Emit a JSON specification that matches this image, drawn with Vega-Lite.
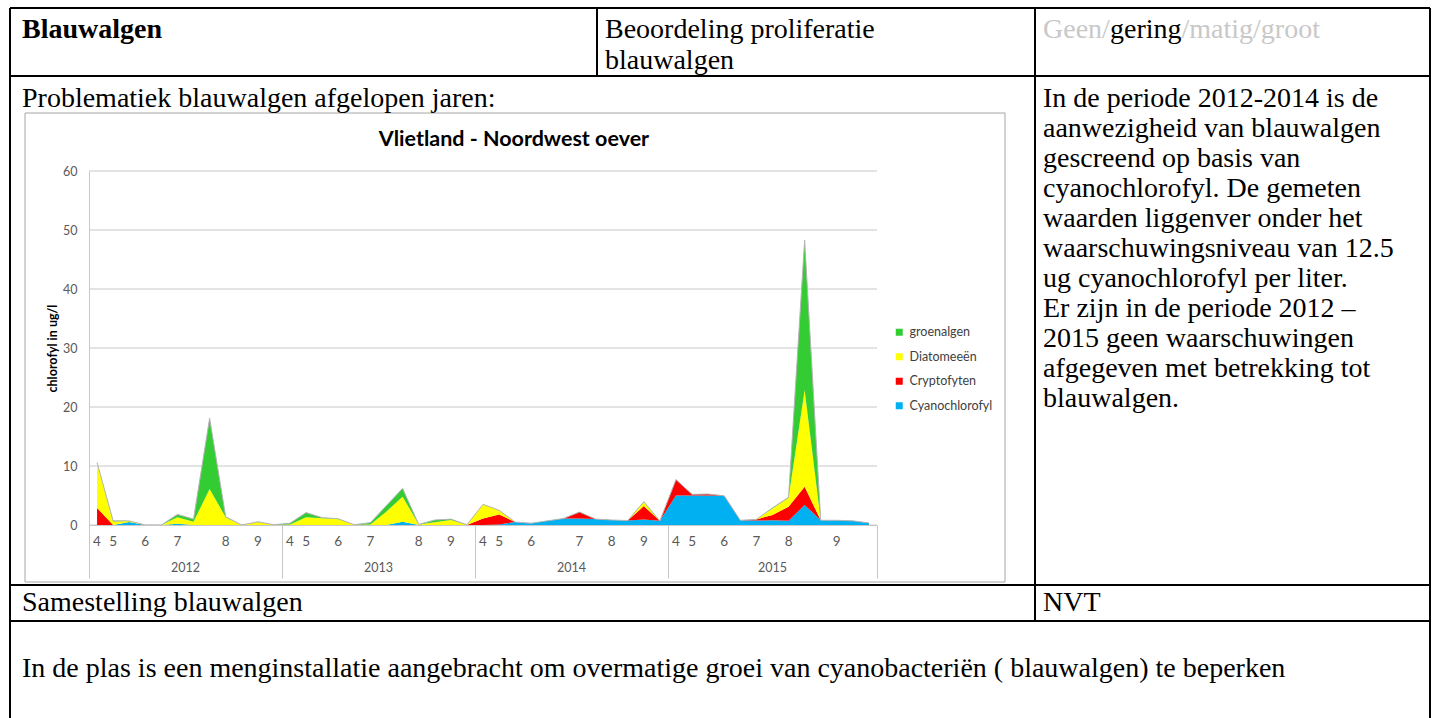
{
  "$schema": "https://vega.github.io/schema/vega-lite/v6.json",
  "width": 1438,
  "height": 718,
  "autosize": "none",
  "padding": 0,
  "background": "white",
  "config": {"view": {"stroke": null}, "font": "Lato"},
  "datasets": {
    "samples": [
      {"i":0,"year":"2012","m":"4","Cyanochlorofyl":0,"Cryptofyten":2.9,"Diatomeeën":7.7,"groenalgen":0},
      {"i":1,"year":"2012","m":"5","Cyanochlorofyl":0,"Cryptofyten":0,"Diatomeeën":0.6,"groenalgen":0.1},
      {"i":2,"year":"2012","m":"","Cyanochlorofyl":0.5,"Cryptofyten":0,"Diatomeeën":0.2,"groenalgen":0},
      {"i":3,"year":"2012","m":"6","Cyanochlorofyl":0,"Cryptofyten":0,"Diatomeeën":0,"groenalgen":0},
      {"i":4,"year":"2012","m":"","Cyanochlorofyl":0,"Cryptofyten":0,"Diatomeeën":0,"groenalgen":0},
      {"i":5,"year":"2012","m":"7","Cyanochlorofyl":0.2,"Cryptofyten":0,"Diatomeeën":1.1,"groenalgen":0.5},
      {"i":6,"year":"2012","m":"","Cyanochlorofyl":0,"Cryptofyten":0,"Diatomeeën":0.55,"groenalgen":0.45},
      {"i":7,"year":"2012","m":"","Cyanochlorofyl":0,"Cryptofyten":0,"Diatomeeën":6.1,"groenalgen":12.0},
      {"i":8,"year":"2012","m":"8","Cyanochlorofyl":0,"Cryptofyten":0,"Diatomeeën":1.3,"groenalgen":0.1},
      {"i":9,"year":"2012","m":"","Cyanochlorofyl":0,"Cryptofyten":0,"Diatomeeën":0,"groenalgen":0},
      {"i":10,"year":"2012","m":"9","Cyanochlorofyl":0,"Cryptofyten":0,"Diatomeeën":0.5,"groenalgen":0.05},
      {"i":11,"year":"2012","m":"","Cyanochlorofyl":0,"Cryptofyten":0,"Diatomeeën":0.05,"groenalgen":0},
      {"i":12,"year":"2013","m":"4","Cyanochlorofyl":0,"Cryptofyten":0,"Diatomeeën":0.1,"groenalgen":0.2},
      {"i":13,"year":"2013","m":"5","Cyanochlorofyl":0,"Cryptofyten":0,"Diatomeeën":1.3,"groenalgen":0.8},
      {"i":14,"year":"2013","m":"","Cyanochlorofyl":0,"Cryptofyten":0,"Diatomeeën":1.15,"groenalgen":0.1},
      {"i":15,"year":"2013","m":"6","Cyanochlorofyl":0,"Cryptofyten":0,"Diatomeeën":1.0,"groenalgen":0.05},
      {"i":16,"year":"2013","m":"","Cyanochlorofyl":0,"Cryptofyten":0,"Diatomeeën":0.05,"groenalgen":0},
      {"i":17,"year":"2013","m":"7","Cyanochlorofyl":0,"Cryptofyten":0,"Diatomeeën":0.1,"groenalgen":0.3},
      {"i":18,"year":"2013","m":"","Cyanochlorofyl":0,"Cryptofyten":0,"Diatomeeën":2.3,"groenalgen":1.0},
      {"i":19,"year":"2013","m":"","Cyanochlorofyl":0.55,"Cryptofyten":0,"Diatomeeën":4.25,"groenalgen":1.4},
      {"i":20,"year":"2013","m":"8","Cyanochlorofyl":0,"Cryptofyten":0,"Diatomeeën":0.1,"groenalgen":0},
      {"i":21,"year":"2013","m":"","Cyanochlorofyl":0,"Cryptofyten":0,"Diatomeeën":0.45,"groenalgen":0.4},
      {"i":22,"year":"2013","m":"9","Cyanochlorofyl":0,"Cryptofyten":0,"Diatomeeën":0.85,"groenalgen":0.15},
      {"i":23,"year":"2013","m":"","Cyanochlorofyl":0,"Cryptofyten":0,"Diatomeeën":0.05,"groenalgen":0},
      {"i":24,"year":"2014","m":"4","Cyanochlorofyl":0,"Cryptofyten":1.1,"Diatomeeën":2.4,"groenalgen":0},
      {"i":25,"year":"2014","m":"5","Cyanochlorofyl":0.1,"Cryptofyten":1.7,"Diatomeeën":0.7,"groenalgen":0},
      {"i":26,"year":"2014","m":"","Cyanochlorofyl":0.5,"Cryptofyten":0,"Diatomeeën":0,"groenalgen":0},
      {"i":27,"year":"2014","m":"6","Cyanochlorofyl":0.3,"Cryptofyten":0,"Diatomeeën":0,"groenalgen":0},
      {"i":28,"year":"2014","m":"","Cyanochlorofyl":0.7,"Cryptofyten":0,"Diatomeeën":0,"groenalgen":0},
      {"i":29,"year":"2014","m":"","Cyanochlorofyl":1.1,"Cryptofyten":0,"Diatomeeën":0,"groenalgen":0},
      {"i":30,"year":"2014","m":"7","Cyanochlorofyl":1.1,"Cryptofyten":1.1,"Diatomeeën":0,"groenalgen":0},
      {"i":31,"year":"2014","m":"","Cyanochlorofyl":1.0,"Cryptofyten":0,"Diatomeeën":0,"groenalgen":0},
      {"i":32,"year":"2014","m":"8","Cyanochlorofyl":0.85,"Cryptofyten":0,"Diatomeeën":0,"groenalgen":0},
      {"i":33,"year":"2014","m":"","Cyanochlorofyl":0.75,"Cryptofyten":0,"Diatomeeën":0,"groenalgen":0},
      {"i":34,"year":"2014","m":"9","Cyanochlorofyl":0.95,"Cryptofyten":2.25,"Diatomeeën":0.7,"groenalgen":0.05},
      {"i":35,"year":"2014","m":"","Cyanochlorofyl":0.7,"Cryptofyten":0,"Diatomeeën":0,"groenalgen":0},
      {"i":36,"year":"2015","m":"4","Cyanochlorofyl":5.0,"Cryptofyten":2.7,"Diatomeeën":0,"groenalgen":0},
      {"i":37,"year":"2015","m":"5","Cyanochlorofyl":5.0,"Cryptofyten":0.2,"Diatomeeën":0,"groenalgen":0},
      {"i":38,"year":"2015","m":"","Cyanochlorofyl":5.0,"Cryptofyten":0.25,"Diatomeeën":0,"groenalgen":0},
      {"i":39,"year":"2015","m":"6","Cyanochlorofyl":4.95,"Cryptofyten":0,"Diatomeeën":0,"groenalgen":0},
      {"i":40,"year":"2015","m":"","Cyanochlorofyl":0.8,"Cryptofyten":0,"Diatomeeën":0,"groenalgen":0},
      {"i":41,"year":"2015","m":"7","Cyanochlorofyl":0.75,"Cryptofyten":0.2,"Diatomeeën":0,"groenalgen":0},
      {"i":42,"year":"2015","m":"","Cyanochlorofyl":0.8,"Cryptofyten":0.9,"Diatomeeën":1.1,"groenalgen":0.1},
      {"i":43,"year":"2015","m":"8","Cyanochlorofyl":0.7,"Cryptofyten":2.4,"Diatomeeën":1.5,"groenalgen":0.1},
      {"i":44,"year":"2015","m":"","Cyanochlorofyl":3.4,"Cryptofyten":3.1,"Diatomeeën":16.4,"groenalgen":25.4},
      {"i":45,"year":"2015","m":"","Cyanochlorofyl":0.8,"Cryptofyten":0,"Diatomeeën":0,"groenalgen":0},
      {"i":46,"year":"2015","m":"9","Cyanochlorofyl":0.8,"Cryptofyten":0,"Diatomeeën":0,"groenalgen":0},
      {"i":47,"year":"2015","m":"","Cyanochlorofyl":0.7,"Cryptofyten":0,"Diatomeeën":0,"groenalgen":0},
      {"i":48,"year":"2015","m":"","Cyanochlorofyl":0.35,"Cryptofyten":0,"Diatomeeën":0,"groenalgen":0}
    ],
    "stackOrder": [
      {"series":"Cyanochlorofyl","rank":1},
      {"series":"Cryptofyten","rank":2},
      {"series":"Diatomeeën","rank":3},
      {"series":"groenalgen","rank":4}
    ],
    "yGrid": [{"v":0},{"v":10},{"v":20},{"v":30},{"v":40},{"v":50},{"v":60}]
  },
  "layer": [
    {
      "data": {"values": [{}]},
      "layer": [
        {"mark": {"type": "rect", "fill": "white", "stroke": "#a6a6a6", "strokeWidth": 1},
         "encoding": {"x": {"datum": 25, "type": "quantitative", "scale": {"domain": [0,1438], "range": [0,1438]}, "axis": null}, "x2": {"datum": 1005},
                      "y": {"datum": 113, "type": "quantitative", "scale": {"domain": [0,718], "range": [0,718]}, "axis": null}, "y2": {"datum": 582}}},
        {"mark": {"type": "rule", "color": "black", "strokeWidth": 2},
         "encoding": {"x": {"datum": 10, "type": "quantitative", "scale": {"domain": [0,1438], "range": [0,1438]}, "axis": null}, "x2": {"datum": 1430},
                      "y": {"datum": 8, "type": "quantitative", "scale": {"domain": [0,718], "range": [0,718]}, "axis": null}}},
        {"mark": {"type": "rule", "color": "black", "strokeWidth": 2},
         "encoding": {"x": {"datum": 10, "type": "quantitative", "scale": {"domain": [0,1438], "range": [0,1438]}, "axis": null}, "x2": {"datum": 1430},
                      "y": {"datum": 76, "type": "quantitative", "scale": {"domain": [0,718], "range": [0,718]}, "axis": null}}},
        {"mark": {"type": "rule", "color": "black", "strokeWidth": 2},
         "encoding": {"x": {"datum": 10, "type": "quantitative", "scale": {"domain": [0,1438], "range": [0,1438]}, "axis": null}, "x2": {"datum": 1430},
                      "y": {"datum": 585, "type": "quantitative", "scale": {"domain": [0,718], "range": [0,718]}, "axis": null}}},
        {"mark": {"type": "rule", "color": "black", "strokeWidth": 2},
         "encoding": {"x": {"datum": 10, "type": "quantitative", "scale": {"domain": [0,1438], "range": [0,1438]}, "axis": null}, "x2": {"datum": 1430},
                      "y": {"datum": 621, "type": "quantitative", "scale": {"domain": [0,718], "range": [0,718]}, "axis": null}}},
        {"mark": {"type": "rule", "color": "black", "strokeWidth": 2},
         "encoding": {"x": {"datum": 10, "type": "quantitative", "scale": {"domain": [0,1438], "range": [0,1438]}, "axis": null},
                      "y": {"datum": 8, "type": "quantitative", "scale": {"domain": [0,718], "range": [0,718]}, "axis": null}, "y2": {"datum": 718}}},
        {"mark": {"type": "rule", "color": "black", "strokeWidth": 2},
         "encoding": {"x": {"datum": 1430, "type": "quantitative", "scale": {"domain": [0,1438], "range": [0,1438]}, "axis": null},
                      "y": {"datum": 8, "type": "quantitative", "scale": {"domain": [0,718], "range": [0,718]}, "axis": null}, "y2": {"datum": 718}}},
        {"mark": {"type": "rule", "color": "black", "strokeWidth": 2},
         "encoding": {"x": {"datum": 597, "type": "quantitative", "scale": {"domain": [0,1438], "range": [0,1438]}, "axis": null},
                      "y": {"datum": 8, "type": "quantitative", "scale": {"domain": [0,718], "range": [0,718]}, "axis": null}, "y2": {"datum": 76}}},
        {"mark": {"type": "rule", "color": "black", "strokeWidth": 2},
         "encoding": {"x": {"datum": 1035, "type": "quantitative", "scale": {"domain": [0,1438], "range": [0,1438]}, "axis": null},
                      "y": {"datum": 8, "type": "quantitative", "scale": {"domain": [0,718], "range": [0,718]}, "axis": null}, "y2": {"datum": 621}}},
        {"mark": {"type": "text", "align": "left", "baseline": "alphabetic", "font": "Liberation Serif", "fontSize": 28, "fontWeight": "bold", "color": "black", "text": "Blauwalgen"},
         "encoding": {"x": {"datum": 22, "type": "quantitative", "scale": {"domain": [0,1438], "range": [0,1438]}, "axis": null},
                      "y": {"datum": 38, "type": "quantitative", "scale": {"domain": [0,718], "range": [0,718]}, "axis": null}}},
        {"mark": {"type": "text", "align": "left", "baseline": "alphabetic", "font": "Liberation Serif", "fontSize": 28, "color": "black", "lineHeight": 31, "text": ["Beoordeling proliferatie", "blauwalgen"]},
         "encoding": {"x": {"datum": 605, "type": "quantitative", "scale": {"domain": [0,1438], "range": [0,1438]}, "axis": null},
                      "y": {"datum": 38, "type": "quantitative", "scale": {"domain": [0,718], "range": [0,718]}, "axis": null}}},
        {"mark": {"type": "text", "align": "left", "baseline": "alphabetic", "font": "Liberation Serif", "fontSize": 28, "color": "#c8c8c8", "text": "Geen/"},
         "encoding": {"x": {"datum": 1043, "type": "quantitative", "scale": {"domain": [0,1438], "range": [0,1438]}, "axis": null},
                      "y": {"datum": 38, "type": "quantitative", "scale": {"domain": [0,718], "range": [0,718]}, "axis": null}}},
        {"mark": {"type": "text", "align": "left", "baseline": "alphabetic", "font": "Liberation Serif", "fontSize": 28, "color": "black", "text": "gering"},
         "encoding": {"x": {"datum": 1110, "type": "quantitative", "scale": {"domain": [0,1438], "range": [0,1438]}, "axis": null},
                      "y": {"datum": 38, "type": "quantitative", "scale": {"domain": [0,718], "range": [0,718]}, "axis": null}}},
        {"mark": {"type": "text", "align": "left", "baseline": "alphabetic", "font": "Liberation Serif", "fontSize": 28, "color": "#c8c8c8", "text": "/matig/groot"},
         "encoding": {"x": {"datum": 1181.5, "type": "quantitative", "scale": {"domain": [0,1438], "range": [0,1438]}, "axis": null},
                      "y": {"datum": 38, "type": "quantitative", "scale": {"domain": [0,718], "range": [0,718]}, "axis": null}}},
        {"mark": {"type": "text", "align": "left", "baseline": "alphabetic", "font": "Liberation Serif", "fontSize": 28, "color": "black", "text": "Problematiek blauwalgen afgelopen jaren:"},
         "encoding": {"x": {"datum": 22, "type": "quantitative", "scale": {"domain": [0,1438], "range": [0,1438]}, "axis": null},
                      "y": {"datum": 107, "type": "quantitative", "scale": {"domain": [0,718], "range": [0,718]}, "axis": null}}},
        {"mark": {"type": "text", "align": "left", "baseline": "alphabetic", "font": "Liberation Serif", "fontSize": 28, "color": "black", "lineHeight": 30,
                  "text": ["In de periode 2012-2014 is de", "aanwezigheid van blauwalgen", "gescreend op basis van", "cyanochlorofyl. De gemeten", "waarden liggenver onder het", "waarschuwingsniveau van 12.5", "ug cyanochlorofyl per liter.", "Er zijn in de periode 2012 –", "2015 geen waarschuwingen", "afgegeven met betrekking tot", "blauwalgen."]},
         "encoding": {"x": {"datum": 1043, "type": "quantitative", "scale": {"domain": [0,1438], "range": [0,1438]}, "axis": null},
                      "y": {"datum": 107, "type": "quantitative", "scale": {"domain": [0,718], "range": [0,718]}, "axis": null}}},
        {"mark": {"type": "text", "align": "left", "baseline": "alphabetic", "font": "Liberation Serif", "fontSize": 28, "color": "black", "text": "Samestelling blauwalgen"},
         "encoding": {"x": {"datum": 22, "type": "quantitative", "scale": {"domain": [0,1438], "range": [0,1438]}, "axis": null},
                      "y": {"datum": 611, "type": "quantitative", "scale": {"domain": [0,718], "range": [0,718]}, "axis": null}}},
        {"mark": {"type": "text", "align": "left", "baseline": "alphabetic", "font": "Liberation Serif", "fontSize": 28, "color": "black", "text": "NVT"},
         "encoding": {"x": {"datum": 1043, "type": "quantitative", "scale": {"domain": [0,1438], "range": [0,1438]}, "axis": null},
                      "y": {"datum": 611, "type": "quantitative", "scale": {"domain": [0,718], "range": [0,718]}, "axis": null}}},
        {"mark": {"type": "text", "align": "left", "baseline": "alphabetic", "font": "Liberation Serif", "fontSize": 28, "color": "black", "text": "In de plas is een menginstallatie aangebracht om overmatige groei van cyanobacteriën ( blauwalgen) te beperken"},
         "encoding": {"x": {"datum": 22, "type": "quantitative", "scale": {"domain": [0,1438], "range": [0,1438]}, "axis": null},
                      "y": {"datum": 677, "type": "quantitative", "scale": {"domain": [0,718], "range": [0,718]}, "axis": null}}},
        {"mark": {"type": "text", "align": "center", "baseline": "middle", "font": "Lato", "fontSize": 21.5, "fontWeight": "bold", "color": "black", "text": "Vlietland - Noordwest oever"},
         "encoding": {"x": {"datum": 514, "type": "quantitative", "scale": {"domain": [0,1438], "range": [0,1438]}, "axis": null},
                      "y": {"datum": 140, "type": "quantitative", "scale": {"domain": [0,718], "range": [0,718]}, "axis": null}}}
      ]
    },
    {
      "data": {"name": "samples"},
      "layer": [
        {
          "data": {"name": "yGrid"},
          "mark": {"type": "rule", "color": "#c8c8c8", "strokeWidth": 1},
          "encoding": {
            "y": {"field": "v", "type": "quantitative"},
            "x": {"datum": -0.5, "type": "quantitative"},
            "x2": {"datum": 48.5}
          }
        },
        {
          "transform": [
            {"fold": ["Cyanochlorofyl", "Cryptofyten", "Diatomeeën", "groenalgen"], "as": ["series", "value"]},
            {"lookup": "series", "from": {"data": {"name": "stackOrder"}, "key": "series", "fields": ["rank"]}}
          ],
          "mark": {"type": "area", "opacity": 1},
          "encoding": {
            "x": {"field": "i", "type": "quantitative",
                  "scale": {"domain": [-0.5, 48.5], "range": [89, 877], "nice": false, "zero": false},
                  "axis": {"orient": "bottom", "offset": -193, "values": [-0.5, 11.5, 23.5, 35.5, 48.5], "labels": false, "ticks": true, "tickSize": 53, "tickColor": "#c8c8c8", "domainColor": "#c8c8c8", "grid": false, "title": null, "zindex": 1}},
            "y": {"field": "value", "type": "quantitative", "stack": "zero",
                  "scale": {"domain": [0, 60], "range": [525, 171], "nice": false, "zero": true},
                  "axis": {"orient": "left", "offset": -89, "values": [0, 10, 20, 30, 40, 50, 60], "ticks": false, "labelPadding": 12, "labelFont": "Lato", "labelFontSize": 12.5, "labelColor": "#595959", "domainColor": "#c8c8c8", "grid": false,
                           "title": "chlorofyl in ug/l", "titleFont": "Lato", "titleFontSize": 12.5, "titleFontWeight": "bold", "titleColor": "black", "titleX": -37, "titleY": 348, "titleAngle": -90, "titleAlign": "center", "titleBaseline": "middle", "zindex": 1}},
            "color": {"field": "series", "type": "nominal",
                      "scale": {"domain": ["groenalgen", "Diatomeeën", "Cryptofyten", "Cyanochlorofyl"], "range": ["#33CC33", "#FFFF00", "#FF0000", "#00B0F0"]},
                      "legend": {"orient": "none", "legendX": 893, "legendY": 326, "title": null, "symbolType": "square", "symbolSize": 49, "symbolStrokeWidth": 0, "labelFont": "Lato", "labelFontSize": 12.5, "labelColor": "#404040", "labelOffset": 4, "rowPadding": 11.5, "padding": 0}},
            "order": {"field": "rank", "type": "quantitative", "sort": "ascending"}
          }
        },
        {
          "transform": [
            {"fold": ["Cyanochlorofyl", "Cryptofyten", "Diatomeeën", "groenalgen"], "as": ["series", "value"]}
          ],
          "mark": {"type": "line", "color": "#b4b4b4", "strokeWidth": 1},
          "encoding": {
            "x": {"field": "i", "type": "quantitative"},
            "y": {"aggregate": "sum", "field": "value", "type": "quantitative"}
          }
        },
        {
          "transform": [{"filter": "datum.m != ''"}],
          "mark": {"type": "text", "align": "center", "baseline": "middle", "dy": 17, "font": "Lato", "fontSize": 13.5, "color": "#595959"},
          "encoding": {
            "x": {"field": "i", "type": "quantitative"},
            "y": {"datum": 0, "type": "quantitative"},
            "text": {"field": "m"}
          }
        },
        {
          "transform": [{"aggregate": [{"op": "mean", "field": "i", "as": "mid"}], "groupby": ["year"]}],
          "mark": {"type": "text", "align": "center", "baseline": "middle", "dy": 43, "font": "Lato", "fontSize": 12.5, "color": "#595959"},
          "encoding": {
            "x": {"field": "mid", "type": "quantitative"},
            "y": {"datum": 0, "type": "quantitative"},
            "text": {"field": "year"}
          }
        }
      ]
    }
  ],
  "resolve": {"scale": {"x": "independent", "y": "independent"}}
}
